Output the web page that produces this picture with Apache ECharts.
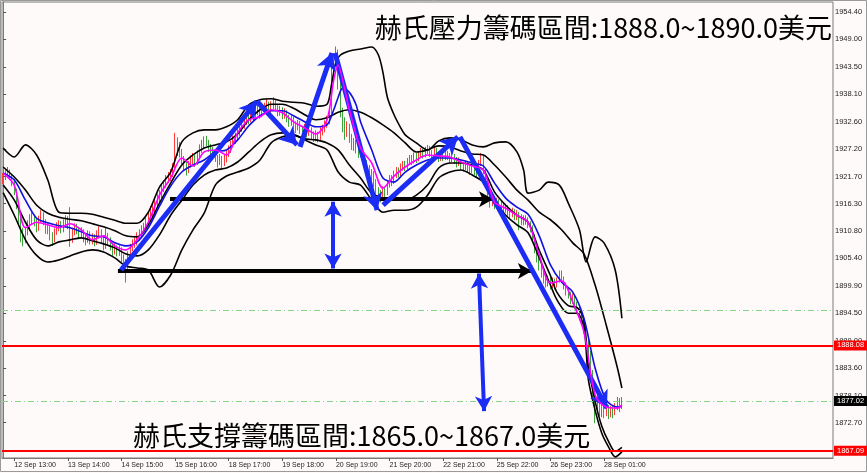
<!DOCTYPE html>
<html><head><meta charset="utf-8">
<script src="https://cdn.jsdelivr.net/npm/echarts/dist/echarts.min.js"></script>
<style>html,body{margin:0;padding:0;background:#fffafa}#c{width:867px;height:473px}</style>
</head><body><div id="c"></div><script>
// ---- data ----
const timeLabels = ['12 Sep 13:00','13 Sep 14:00','14 Sep 15:00','15 Sep 16:00','18 Sep 17:00','19 Sep 18:00','20 Sep 19:00','21 Sep 20:00','22 Sep 21:00','25 Sep 22:00','26 Sep 23:00','28 Sep 01:00'];
const firstLabelBar = 5, barsPerLabel = 24, barSlots = 372;
const yTicks = [1954.4,1949.0,1943.5,1938.1,1932.6,1927.2,1921.7,1916.3,1910.8,1905.4,1899.9,1894.5,1889.0,1883.6,1878.1,1872.7];
const resistanceLevel = 1888.08, supportLevel = 1867.09, bidLevel = 1877.02, dashLevel = 1895.1;
const topText = '赫氏壓力籌碼區間:1888.0~1890.0美元';
const bottomText = '赫氏支撐籌碼區間:1865.0~1867.0美元';

// [open, close, low, high] per hourly bar
const candles = [
[1921.0,1921.5,1920.2,1922.4],[1921.5,1922.1,1921.0,1923.0],[1922.1,1922.7,1921.6,1923.6],[1922.7,1921.5,1921.0,1923.1],[1921.5,1920.7,1919.8,1922.0],
[1920.7,1918.7,1918.0,1921.2],[1918.7,1916.1,1915.2,1919.3],[1916.1,1913.1,1912.0,1916.8],[1913.1,1910.1,1908.6,1914.0],[1910.1,1909.1,1907.8,1911.5],
[1909.1,1910.7,1908.4,1911.6],[1910.7,1912.1,1910.0,1913.0],[1912.1,1913.1,1911.3,1914.2],[1913.1,1913.5,1912.2,1914.6],[1913.5,1912.7,1911.8,1914.1],
[1912.7,1911.5,1910.6,1913.3],[1911.5,1913.1,1910.9,1913.9],[1913.1,1914.1,1912.5,1915.0],[1914.1,1912.7,1912.0,1914.6],[1912.7,1911.5,1910.3,1913.2],
[1911.5,1911.1,1910.2,1912.4],[1911.1,1910.1,1909.0,1911.8],[1910.1,1909.1,1907.9,1910.6],[1909.1,1910.7,1908.6,1911.4],[1910.7,1911.5,1910.1,1912.6],
[1911.5,1912.1,1910.8,1913.0],[1912.1,1911.1,1910.4,1912.8],[1911.1,1912.3,1910.6,1913.2],[1912.3,1913.1,1911.7,1914.0],[1913.1,1912.1,1911.2,1913.8],
[1912.1,1909.0,1907.7,1915.6],[1909.0,1910.7,1908.5,1911.5],[1910.7,1911.5,1910.0,1912.4],[1911.5,1911.1,1910.2,1912.3],[1911.1,1910.1,1909.2,1911.7],
[1910.1,1910.7,1909.5,1911.6],[1910.7,1909.5,1908.6,1911.2],[1909.5,1909.1,1908.0,1910.3],[1909.1,1910.1,1908.5,1911.0],[1910.1,1909.1,1908.2,1910.8],
[1909.1,1909.5,1908.2,1910.4],[1909.5,1908.7,1907.8,1910.2],[1908.7,1910.1,1908.1,1911.0],[1910.1,1910.7,1909.4,1911.8],[1910.7,1909.1,1908.3,1911.2],
[1909.1,1908.3,1907.0,1909.9],[1908.3,1909.7,1907.3,1911.5],[1909.7,1909.1,1908.0,1910.5],[1909.1,1907.9,1907.0,1909.6],[1907.9,1907.1,1905.9,1908.5],
[1907.1,1907.5,1906.2,1908.4],[1907.5,1906.7,1905.8,1908.0],[1906.7,1907.1,1905.9,1908.0],[1907.1,1905.5,1904.6,1907.6],[1905.5,1904.7,1903.5,1906.2],
[1904.7,1903.1,1900.6,1905.3],[1903.1,1906.1,1902.5,1906.8],[1906.1,1907.5,1905.4,1908.3],[1907.5,1908.1,1906.8,1909.2],[1908.1,1909.1,1907.5,1909.9],
[1909.1,1909.5,1908.0,1910.6],[1909.5,1910.1,1908.9,1911.2],[1910.1,1911.1,1909.6,1912.0],[1911.1,1911.5,1910.4,1912.5],[1911.5,1912.7,1911.0,1913.6],
[1912.7,1913.5,1912.1,1914.6],[1913.5,1914.7,1913.0,1915.8],[1914.7,1915.1,1913.9,1916.2],[1915.1,1916.1,1914.5,1917.2],[1916.1,1917.1,1915.4,1918.3],
[1917.1,1918.1,1916.5,1919.0],[1918.1,1919.1,1917.4,1920.0],[1919.1,1920.1,1918.6,1921.0],[1920.1,1921.1,1919.5,1922.0],[1921.1,1921.5,1920.4,1922.6],
[1921.5,1922.1,1920.8,1923.2],[1922.1,1923.5,1921.6,1924.4],[1923.5,1927.0,1923.0,1930.4],[1927.0,1928.0,1925.8,1929.5],[1928.0,1926.6,1925.5,1928.6],
[1926.6,1925.0,1924.2,1927.2],[1925.0,1924.0,1923.0,1925.8],[1924.0,1923.0,1921.9,1924.6],[1923.0,1924.0,1922.4,1924.8],[1924.0,1925.0,1923.5,1925.9],
[1925.0,1925.4,1924.2,1926.4],[1925.4,1924.6,1923.6,1926.0],[1924.6,1926.0,1924.0,1926.9],[1926.0,1927.0,1925.5,1928.1],[1927.0,1928.0,1926.4,1929.0],
[1928.0,1928.8,1927.3,1929.7],[1928.8,1928.6,1927.8,1929.8],[1928.6,1927.4,1926.6,1929.0],[1927.4,1927.0,1926.0,1928.2],[1927.0,1926.4,1925.5,1927.6],
[1926.4,1925.4,1924.6,1926.9],[1925.4,1924.6,1923.5,1926.0],[1924.6,1925.4,1924.0,1926.2],[1925.4,1924.4,1923.3,1925.8],[1924.4,1925.0,1923.8,1926.0],
[1925.0,1926.0,1924.5,1926.9],[1926.0,1927.0,1925.6,1927.9],[1927.0,1928.0,1926.4,1928.8],[1928.0,1929.0,1927.5,1929.9],[1929.0,1929.4,1928.2,1930.4],
[1929.4,1930.4,1928.9,1931.4],[1930.4,1931.4,1929.8,1932.3],[1931.4,1932.0,1930.6,1932.9],[1932.0,1932.6,1931.2,1933.8],[1932.6,1933.4,1932.0,1934.5],
[1933.4,1933.0,1932.1,1934.2],[1933.0,1934.0,1932.5,1935.0],[1934.0,1933.4,1932.6,1934.8],[1933.4,1934.6,1933.0,1935.4],[1934.6,1935.0,1933.9,1936.0],
[1935.0,1934.0,1933.2,1935.6],[1934.0,1934.6,1933.5,1935.5],[1934.6,1935.4,1934.0,1936.4],[1935.4,1936.0,1934.8,1937.2],[1936.0,1935.0,1934.3,1936.6],
[1935.0,1935.6,1934.4,1936.7],[1935.6,1936.4,1935.1,1937.5],[1936.4,1935.4,1934.7,1936.9],[1935.4,1934.6,1933.7,1935.9],[1934.6,1935.0,1933.8,1935.8],
[1935.0,1934.0,1933.1,1935.5],[1934.0,1934.4,1933.2,1935.3],[1934.4,1933.4,1932.5,1934.9],[1933.4,1932.6,1931.6,1934.0],[1932.6,1933.0,1931.8,1933.9],
[1933.0,1932.0,1931.2,1933.6],[1932.0,1931.4,1930.4,1932.7],[1931.4,1932.2,1930.9,1933.0],[1932.2,1931.0,1930.2,1932.8],[1931.0,1930.6,1929.6,1931.7],
[1930.6,1931.4,1930.0,1932.2],[1931.4,1930.4,1929.5,1931.9],[1930.4,1931.0,1929.8,1931.8],[1931.0,1930.0,1929.1,1931.5],[1930.0,1929.6,1928.6,1930.7],
[1929.6,1930.0,1928.7,1930.9],[1930.0,1929.4,1928.5,1930.6],[1929.4,1930.6,1928.9,1931.5],[1930.6,1931.0,1929.9,1932.0],[1931.0,1932.0,1930.5,1932.9],
[1932.0,1932.6,1931.4,1933.8],[1932.6,1934.6,1932.1,1935.6],[1934.6,1942.0,1934.2,1943.5],[1942.0,1945.0,1941.0,1946.2],[1945.0,1946.0,1943.8,1947.6],
[1946.0,1940.0,1939.0,1947.0],[1940.0,1934.5,1933.5,1941.2],[1934.5,1932.0,1930.5,1935.4],[1932.0,1930.6,1929.0,1933.5],[1930.6,1931.8,1929.6,1932.7],
[1931.8,1929.4,1928.4,1932.2],[1929.4,1928.0,1927.0,1930.2],[1928.0,1928.6,1926.8,1929.4],[1928.6,1927.2,1926.3,1929.0],[1927.2,1926.4,1925.4,1928.0],
[1926.4,1927.0,1925.6,1927.8],[1927.0,1925.6,1924.7,1927.5],[1925.6,1924.4,1923.5,1926.0],[1924.4,1923.4,1922.3,1925.0],[1923.4,1921.6,1920.8,1924.0],
[1921.6,1922.4,1920.9,1923.2],[1922.4,1920.6,1919.6,1922.8],[1920.6,1918.8,1917.7,1921.2],[1918.8,1918.0,1917.0,1919.6],[1918.0,1917.6,1916.6,1919.0],
[1917.6,1919.0,1917.1,1919.8],[1919.0,1918.4,1917.4,1919.6],[1918.4,1920.0,1918.0,1920.8],[1920.0,1921.2,1919.5,1922.0],[1921.2,1920.6,1919.8,1922.0],
[1920.6,1922.0,1920.2,1922.9],[1922.0,1922.8,1921.4,1923.6],[1922.8,1922.2,1921.5,1923.5],[1922.2,1923.4,1921.8,1924.3],[1923.4,1924.0,1922.9,1924.8],
[1924.0,1923.6,1922.8,1924.8],[1923.6,1924.6,1923.1,1925.4],[1924.6,1925.2,1924.0,1926.0],[1925.2,1924.8,1924.0,1926.0],[1924.8,1925.6,1924.3,1926.5],
[1925.6,1925.2,1924.4,1926.4],[1925.2,1926.0,1924.7,1926.8],[1926.0,1926.6,1925.4,1927.4],[1926.6,1926.0,1925.3,1927.2],[1926.0,1926.8,1925.5,1927.6],
[1926.8,1927.2,1926.2,1928.0],[1927.2,1926.4,1925.6,1927.8],[1926.4,1926.0,1925.0,1927.0],[1926.0,1926.8,1925.5,1927.5],[1926.8,1926.2,1925.4,1927.4],
[1926.2,1925.4,1924.6,1926.6],[1925.4,1926.0,1924.8,1926.7],[1926.0,1925.6,1924.8,1926.6],[1925.6,1926.2,1925.0,1926.9],[1926.2,1925.8,1925.0,1926.8],
[1925.8,1925.2,1924.4,1926.4],[1925.2,1925.8,1924.6,1926.4],[1925.8,1925.0,1924.2,1926.2],[1925.0,1924.4,1923.5,1925.6],[1924.4,1924.8,1923.8,1925.5],
[1924.8,1924.0,1923.0,1925.2],[1924.0,1923.6,1922.7,1924.6],[1923.6,1924.2,1923.0,1924.9],[1924.2,1923.4,1922.5,1924.6],[1923.4,1923.0,1922.0,1923.9],
[1923.0,1923.6,1922.4,1924.3],[1923.6,1922.8,1922.0,1924.0],[1922.8,1922.4,1921.4,1923.4],[1922.4,1924.4,1922.0,1925.0],[1924.4,1925.6,1923.8,1926.4],
[1925.6,1923.0,1922.2,1925.9],[1923.0,1921.0,1920.0,1923.4],[1921.0,1918.4,1917.5,1921.4],[1918.4,1916.6,1915.5,1919.0],[1916.6,1917.2,1915.8,1917.9],
[1917.2,1916.2,1915.2,1917.8],[1916.2,1916.8,1915.4,1917.5],[1916.8,1915.8,1915.0,1917.2],[1915.8,1916.2,1914.9,1917.0],[1916.2,1915.2,1914.3,1916.6],
[1915.2,1915.6,1914.5,1916.3],[1915.6,1914.8,1913.9,1916.0],[1914.8,1914.4,1913.4,1915.4],[1914.4,1914.8,1913.6,1915.5],[1914.8,1913.8,1913.0,1915.2],
[1913.8,1914.2,1913.0,1915.0],[1914.2,1912.6,1911.0,1914.6],[1912.6,1913.4,1912.0,1914.2],[1913.4,1912.8,1912.0,1914.0],[1912.8,1913.2,1912.1,1914.0],
[1913.2,1912.2,1911.4,1913.6],[1912.2,1911.6,1910.6,1912.8],[1911.6,1909.8,1908.8,1912.0],[1909.8,1907.4,1906.4,1910.2],[1907.4,1905.6,1904.6,1908.0],
[1905.6,1904.0,1903.0,1906.2],[1904.0,1902.6,1901.6,1904.6],[1902.6,1901.4,1900.4,1903.2],[1901.4,1900.6,1899.6,1902.0],[1900.6,1901.2,1899.8,1902.0],
[1901.2,1900.2,1899.2,1901.8],[1900.2,1900.8,1899.5,1901.6],[1900.8,1900.0,1899.2,1901.4],[1900.0,1901.0,1899.6,1901.6],[1901.0,1902.4,1900.6,1903.0],
[1902.4,1901.2,1900.5,1903.0],[1901.2,1900.0,1899.2,1901.8],[1900.0,1899.0,1898.0,1900.6],[1899.0,1898.4,1897.4,1899.6],[1898.4,1897.2,1896.3,1898.8],
[1897.2,1897.6,1896.4,1898.4],[1897.6,1896.2,1895.3,1898.0],[1896.2,1895.2,1894.3,1896.8],[1895.2,1894.0,1893.0,1895.8],[1894.0,1893.2,1892.2,1894.6],
[1893.2,1891.4,1890.4,1893.6],[1891.4,1889.2,1888.0,1891.8],[1889.2,1886.4,1885.2,1889.6],[1886.4,1882.6,1881.4,1887.0],[1882.6,1879.2,1877.8,1883.2],
[1879.2,1876.0,1872.6,1880.0],[1876.0,1877.4,1875.0,1878.6],[1877.4,1875.2,1874.0,1878.0],[1875.2,1876.4,1873.8,1877.2],[1876.4,1874.6,1873.6,1877.0],
[1874.6,1875.6,1874.0,1876.6],[1875.6,1874.4,1873.4,1876.2],[1874.4,1875.2,1873.8,1876.0],[1875.2,1874.6,1873.6,1876.0],[1874.6,1875.8,1874.2,1876.6],
[1875.8,1876.4,1875.2,1877.8],[1876.4,1875.8,1874.8,1877.6],[1875.8,1877.0,1875.4,1877.8]
];

// indicator lines: [bar index, price]
const maFast = [[0,1922.4],[5,1920.0],[10,1911.5],[15,1912.6],[20,1912.1],[25,1911.5],[30,1912.3],[35,1911.1],[40,1909.1],[45,1909.9],[50,1907.9],[55,1907.1],[60,1909.1],[65,1912.6],[70,1918.0],[75,1921.4],[80,1925.4],[85,1923.8],[90,1926.6],[95,1927.0],[100,1926.0],[105,1930.4],[110,1933.0],[115,1933.6],[120,1935.0],[125,1934.4],[130,1932.6],[135,1931.4],[140,1930.2],[145,1933.0],[148,1940.9],[150,1943.9],[152,1940.9],[155,1935.0],[160,1927.4],[165,1924.4],[170,1919.4],[175,1921.8],[180,1923.6],[185,1925.0],[190,1926.0],[195,1925.8],[200,1925.6],[205,1924.6],[210,1923.8],[215,1923.0],[220,1916.6],[225,1915.4],[230,1914.0],[235,1912.6],[240,1906.1],[245,1900.5],[250,1900.9],[255,1896.7],[260,1890.8],[265,1878.2],[270,1875.8],[275,1875.6],[277,1876.2]];
const maSlow = [[0,1922.4],[5,1921.0],[10,1917.0],[15,1913.4],[20,1912.5],[25,1911.9],[30,1911.5],[35,1910.7],[40,1909.9],[45,1909.7],[50,1908.5],[55,1907.9],[60,1908.7],[65,1911.5],[70,1915.8],[75,1919.8],[80,1922.6],[85,1924.0],[90,1925.0],[95,1926.6],[100,1927.0],[105,1929.0],[110,1931.8],[115,1933.8],[120,1934.8],[125,1934.8],[130,1933.8],[135,1932.6],[140,1931.6],[145,1932.0],[148,1935.0],[150,1937.5],[152,1939.3],[155,1938.5],[158,1936.0],[160,1932.6],[165,1927.0],[170,1921.4],[175,1920.6],[180,1922.6],[185,1924.0],[190,1925.0],[195,1925.4],[200,1925.4],[205,1925.0],[210,1924.4],[215,1923.8],[220,1920.4],[225,1917.4],[230,1915.6],[235,1914.2],[240,1909.9],[245,1904.1],[250,1900.7],[255,1898.7],[260,1893.5],[265,1883.6],[270,1877.2],[275,1875.8],[277,1876.0]];
const bandOuterUpper = [[0,1927.4],[5,1925.6],[10,1928.0],[15,1926.0],[20,1921.0],[25,1914.6],[30,1914.4],[35,1914.4],[40,1914.2],[45,1913.6],[50,1913.0],[55,1912.4],[60,1912.4],[65,1914.6],[70,1919.6],[75,1922.6],[80,1928.6],[85,1930.4],[90,1931.0],[95,1931.0],[100,1931.6],[105,1933.0],[110,1936.0],[115,1937.0],[120,1937.2],[125,1936.7],[130,1936.5],[135,1936.3],[140,1935.7],[145,1936.1],[147,1940.0],[149,1944.5],[151,1945.9],[155,1946.7],[160,1947.1],[165,1947.5],[168,1945.9],[170,1942.5],[172,1937.5],[175,1934.0],[178,1931.4],[180,1930.0],[185,1928.4],[190,1927.0],[195,1928.8],[200,1929.4],[205,1929.0],[210,1928.0],[215,1927.6],[220,1928.4],[225,1928.6],[230,1926.6],[233,1923.0],[235,1918.4],[240,1919.0],[244,1920.6],[249,1920.0],[253,1916.4],[258,1911.1],[261,1904.7],[265,1909.7],[269,1908.5],[274,1903.1],[277,1893.5]];
const bandInnerUpper = [[0,1923.6],[5,1921.6],[10,1919.0],[15,1916.0],[20,1914.4],[25,1913.6],[30,1913.2],[35,1912.9],[40,1912.3],[45,1911.7],[50,1910.9],[55,1909.9],[60,1909.7],[65,1912.1],[70,1916.4],[75,1920.4],[80,1924.0],[85,1926.0],[90,1927.4],[95,1928.0],[100,1928.6],[105,1930.2],[110,1933.0],[115,1935.0],[120,1936.1],[125,1936.1],[130,1935.3],[135,1934.0],[140,1933.0],[145,1933.4],[150,1934.5],[155,1935.0],[160,1934.5],[165,1933.4],[170,1932.0],[175,1930.4],[180,1928.4],[185,1926.6],[190,1927.0],[195,1927.8],[200,1927.6],[205,1926.8],[210,1926.2],[215,1926.0],[220,1924.0],[225,1921.6],[230,1919.0],[235,1917.0],[240,1914.6],[245,1913.1],[250,1911.1],[255,1908.5],[260,1906.3],[265,1900.1],[270,1892.1],[275,1883.6],[277,1879.6]];
const bandInnerLower = [[0,1920.0],[5,1917.0],[10,1912.6],[15,1909.1],[20,1907.9],[25,1908.7],[30,1909.1],[35,1909.5],[40,1908.9],[45,1908.3],[50,1907.5],[55,1906.3],[60,1905.9],[65,1907.1],[70,1910.1],[75,1914.0],[80,1917.0],[85,1920.0],[90,1922.0],[95,1923.0],[100,1923.4],[105,1924.6],[110,1926.6],[115,1928.6],[120,1930.0],[125,1930.4],[130,1930.0],[135,1929.2],[140,1929.0],[145,1928.4],[150,1927.0],[155,1924.0],[160,1921.4],[165,1918.4],[170,1917.4],[175,1917.0],[180,1917.0],[185,1918.0],[190,1920.0],[195,1923.4],[200,1924.4],[205,1924.4],[210,1924.0],[215,1923.0],[220,1918.6],[225,1916.0],[230,1914.0],[235,1912.6],[240,1907.0],[245,1902.0],[248,1898.6],[253,1896.0],[257,1895.6],[260,1893.0],[262,1884.0],[265,1877.0],[268,1872.0],[271,1869.0],[274,1867.0],[277,1867.8]];
const bandOuterLower = [[0,1918.5],[5,1914.0],[10,1909.1],[15,1906.0],[20,1904.7],[25,1905.1],[30,1905.9],[35,1906.7],[40,1907.1],[45,1906.7],[50,1905.5],[55,1903.9],[60,1903.5],[65,1903.1],[70,1899.7],[75,1902.1],[80,1907.1],[85,1911.1],[90,1914.4],[95,1920.0],[100,1921.8],[105,1922.6],[110,1923.4],[115,1925.0],[120,1928.4],[125,1929.6],[130,1930.0],[135,1929.0],[140,1928.0],[145,1927.0],[150,1922.6],[155,1920.6],[160,1920.0],[165,1917.0],[170,1914.6],[175,1915.0],[180,1915.0],[185,1915.6],[190,1918.0],[195,1921.4],[200,1922.6],[205,1923.0],[210,1922.0],[215,1920.6],[220,1917.0],[225,1914.0],[230,1912.1],[235,1910.5],[240,1905.5],[245,1900.1],[248,1897.1],[253,1894.5],[257,1894.5],[260,1891.7],[261,1887.2],[262,1881.2],[265,1875.2],[268,1870.6],[271,1867.9],[274,1865.9],[277,1866.9]];

// hand-drawn annotations, in [bar index, price]
const trendArrows = [
  [[52.8,1903.1],[113.6,1936.7]],
  [[113.6,1936.7],[131.6,1928.0]],
  [[132.9,1927.6],[147.2,1946.3]],
  [[148.6,1946.3],[167.4,1915.0]],
  [[170.1,1916.0],[203.6,1929.6]],
  [[204.5,1929.6],[270.3,1875.6]]
];
const rangeArrows = [
  [[147.7,1916.7],[147.7,1903.4]],
  [[213.0,1902.4],[215.3,1875.0]]
];
const levelArrows = [
  [[74.7,1917.2],[219.3,1917.2]],
  [[51.4,1902.9],[236.7,1902.9]]
];

// ---- chart ----
const categories = Array.from({length: barSlots}, (_, i) =>
  (i >= firstLabelBar && (i - firstLabelBar) % barsPerLabel === 0) ? (timeLabels[(i - firstLabelBar) / barsPerLabel] || '') : '');
const isLabel = (idx, val) => val !== '';

const chart = echarts.init(document.getElementById('c'), null, {renderer: 'canvas'});
const BLUE = '#1b2cf5';
function seg(pts, color, width, sym0, sym1, size) {
  const ls = {color, width, type: 'solid', opacity: 1};
  return [{coord: pts[0], symbol: sym0, symbolSize: size, lineStyle: ls},
          {coord: pts[1], symbol: sym1, symbolSize: size, lineStyle: ls}];
}
const bandLine = (name, data) => ({
  name, type: 'line', xAxisIndex: 1, yAxisIndex: 0, data, symbol: 'none', smooth: 0.3,
  silent: true, z: 3, lineStyle: {color: '#000', width: 1.6}
});
const priceLabel = (bg) => ({
  show: true, position: 'end', distance: 1, color: '#fff', backgroundColor: bg,
  fontSize: 7.5, fontFamily: 'Liberation Sans', padding: [1, 3, 1, 3],
  formatter: p => Number(p.value).toFixed(2)
});
const textStyle = {fontSize: 27, fontWeight: 'normal', color: '#000', fontFamily: 'Noto Sans CJK TC', lineHeight: 32};

chart.setOption({
  animation: false,
  backgroundColor: '#fffafa',
  title: [
    {text: topText, right: 35, top: 12, padding: 0, textStyle},
    {text: bottomText, left: 133, top: 420, padding: 0, textStyle}
  ],
  graphic: [{type: 'rect', shape: {x: 0.5, y: 0.5, width: 866, height: 471}, style: {fill: 'none', stroke: '#9a9a9a', lineWidth: 1}, silent: true, z: -1}],
  grid: {left: 2, right: 34, top: 2, bottom: 15, show: true, borderColor: '#7a7a7a', borderWidth: 1, backgroundColor: 'transparent'},
  xAxis: [
    {type: 'category', data: categories, boundaryGap: true, position: 'bottom',
     axisLine: {show: true, lineStyle: {color: '#7a7a7a'}},
     axisTick: {show: true, interval: isLabel, alignWithLabel: true, length: 3, lineStyle: {color: '#555'}},
     axisLabel: {interval: isLabel, align: 'left', margin: 4, fontSize: 7, color: '#222', fontFamily: 'Liberation Sans'},
     splitLine: {show: false}},
    {type: 'value', min: -0.5, max: barSlots - 0.5, show: false}
  ],
  yAxis: [{
    type: 'value', position: 'right', min: 1865.67, max: 1956.45, scale: true,
    axisLine: {show: true, lineStyle: {color: '#7a7a7a'}},
    axisTick: {show: true, length: 3, customValues: yTicks, lineStyle: {color: '#555'}},
    axisLabel: {customValues: yTicks, formatter: v => Number(v).toFixed(2), margin: 2, fontSize: 7.5, color: '#222', fontFamily: 'Liberation Sans'},
    splitLine: {show: false}
  }],
  series: [
    {name: 'XAUUSD', type: 'candlestick', xAxisIndex: 0, yAxisIndex: 0, data: candles, barWidth: 1, silent: true, z: 2,
     itemStyle: {color: '#ff2222', color0: '#2e9e2e', borderColor: '#ff3a3a', borderColor0: '#3aa53a', borderWidth: 1}},
    bandLine('outerUpper', bandOuterUpper),
    bandLine('innerUpper', bandInnerUpper),
    bandLine('innerLower', bandInnerLower),
    bandLine('outerLower', bandOuterLower),
    {name: 'maSlow', type: 'line', xAxisIndex: 1, data: maSlow, symbol: 'none', smooth: 0.3, silent: true, z: 4,
     lineStyle: {color: '#1010e0', width: 1.6}},
    {name: 'maFast', type: 'line', xAxisIndex: 1, data: maFast, symbol: 'none', smooth: 0.3, silent: true, z: 5,
     lineStyle: {color: '#ff00ff', width: 1.6}},
    {name: 'levels', type: 'line', xAxisIndex: 1, yAxisIndex: 0, data: [], z: 6, silent: true,
     markLine: {silent: true, symbol: 'none', animation: false,
       data: [
         {yAxis: dashLevel, lineStyle: {color: '#86d486', width: 1, type: [6, 3, 1, 3]}, label: {show: false}},
         {yAxis: bidLevel, lineStyle: {color: '#86d486', width: 1, type: [6, 3, 1, 3]}, label: priceLabel('#000000')},
         {yAxis: resistanceLevel, lineStyle: {color: '#ff0000', width: 2, type: 'solid'}, label: priceLabel('#ff0000')},
         {yAxis: supportLevel, lineStyle: {color: '#ff0000', width: 2, type: 'solid'}, label: priceLabel('#ff0000')}
       ]}},
    {name: 'drawings', type: 'line', xAxisIndex: 1, yAxisIndex: 0, data: [], z: 8, silent: true,
     markLine: {silent: true, animation: false, label: {show: false},
       data: [].concat(
         levelArrows.map(p => seg(p, '#000', 4, 'none', 'arrow', [12, 14])),
         trendArrows.map(p => seg(p, BLUE, 5, 'none', 'arrow', [15, 17])),
         rangeArrows.map(p => seg(p, BLUE, 4, 'arrow', 'arrow', [13, 15]))
       )}}
  ]
});
</script></body></html>
